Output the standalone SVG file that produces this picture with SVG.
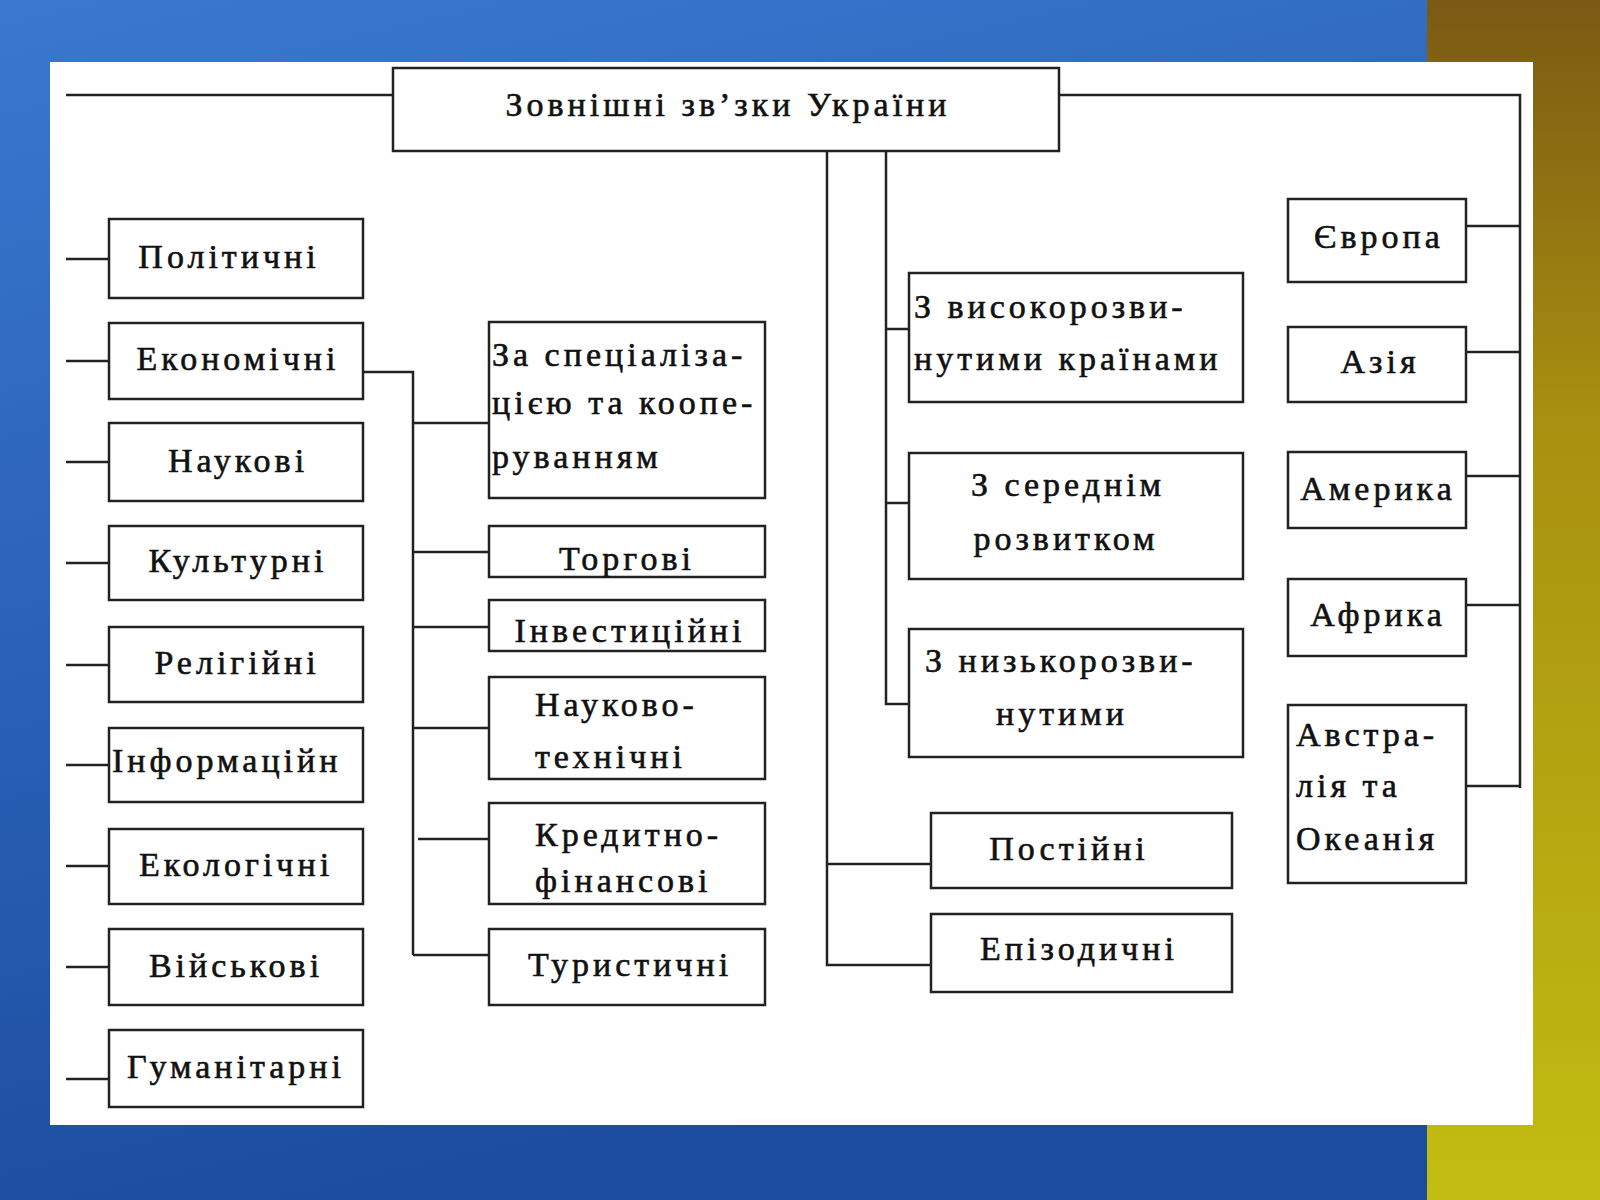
<svg xmlns="http://www.w3.org/2000/svg" width="1600" height="1200" viewBox="0 0 1600 1200">
<defs>
<linearGradient id="bg" x1="0" y1="0" x2="0.3" y2="1"><stop offset="0" stop-color="#3a78d0"/><stop offset="1" stop-color="#1b4c9e"/></linearGradient>
<linearGradient id="yl" x1="0" y1="0" x2="0" y2="1"><stop offset="0" stop-color="#7a5a14"/><stop offset="0.35" stop-color="#a89010"/><stop offset="1" stop-color="#c2bd12"/></linearGradient>
<style>
.b{fill:#fff;stroke:#222;stroke-width:2.5}
.t,.l{font-family:"Liberation Serif",serif;font-size:34px;fill:#111;letter-spacing:4px;stroke:#111;stroke-width:0.6}
.t{text-anchor:middle}
#connectors path{fill:none;stroke:#222;stroke-width:2.5}
</style>
</defs>
<rect width="1600" height="1200" fill="url(#bg)"/>
<rect x="1427" y="0" width="173" height="1200" fill="url(#yl)"/>
<rect x="50" y="62" width="1483" height="1063" fill="#fff"/>
<g id="connectors">
<path d="M66 95H393M1059 95H1520V788"/>
<path d="M66 259H109M66 361H109M66 462H109M66 563H109M66 665H109M66 765H109M66 866H109M66 967H109M66 1079H109"/>
<path d="M363 372H413V955M413 423H489M413 552H489M413 627H489M413 728H489M418 839H494M413 955H489"/>
<path d="M886 151V704H909M886 329H909M886 503H909"/>
<path d="M827 151V965H931M827 864H931"/>
<path d="M1466 226H1520M1466 352H1520M1466 476H1520M1466 605H1520M1466 786H1520"/>
</g>
<g id="n0"><rect class="b" x="393" y="68" width="666" height="83"/><text class="t" x="728" y="116">Зовнішні зв’зки України</text></g>
<g id="n1"><rect class="b" x="109" y="219" width="254" height="79"/><text class="t" x="229" y="268">Політичні</text></g>
<g id="n2"><rect class="b" x="109" y="323" width="254" height="76"/><text class="t" x="238" y="370">Економічні</text></g>
<g id="n3"><rect class="b" x="109" y="423" width="254" height="78"/><text class="t" x="238" y="472">Наукові</text></g>
<g id="n4"><rect class="b" x="109" y="526" width="254" height="74"/><text class="t" x="238" y="572">Культурні</text></g>
<g id="n5"><rect class="b" x="109" y="627" width="254" height="75"/><text class="t" x="237" y="674">Релігійні</text></g>
<g id="n6"><rect class="b" x="109" y="728" width="254" height="74"/><text class="l" x="112" y="772">Інформаційн</text></g>
<g id="n7"><rect class="b" x="109" y="829" width="254" height="75"/><text class="t" x="236" y="876">Екологічні</text></g>
<g id="n8"><rect class="b" x="109" y="929" width="254" height="76"/><text class="t" x="236" y="977">Військові</text></g>
<g id="n9"><rect class="b" x="109" y="1030" width="254" height="77"/><text class="t" x="236" y="1078">Гуманітарні</text></g>
<g id="m1"><rect class="b" x="489" y="322" width="276" height="176"/><text class="l" x="492" y="366">За спеціаліза-</text><text class="l" x="492" y="414">цією та коопе-</text><text class="l" x="492" y="468">руванням</text></g>
<g id="m2"><rect class="b" x="489" y="526" width="276" height="51"/><text class="t" x="627" y="570">Торгові</text></g>
<g id="m3"><rect class="b" x="489" y="600" width="276" height="51"/><text class="t" x="630" y="642">Інвестиційні</text></g>
<g id="m4"><rect class="b" x="489" y="677" width="276" height="102"/><text class="l" x="535" y="716">Науково-</text><text class="l" x="535" y="768">технічні</text></g>
<g id="m5"><rect class="b" x="489" y="803" width="276" height="101"/><text class="l" x="535" y="846">Кредитно-</text><text class="l" x="535" y="892">фінансові</text></g>
<g id="m6"><rect class="b" x="489" y="929" width="276" height="76"/><text class="t" x="630" y="976">Туристичні</text></g>
<g id="d1"><rect class="b" x="909" y="273" width="334" height="129"/><text class="l" x="914" y="318">З високорозви-</text><text class="l" x="914" y="370">нутими країнами</text></g>
<g id="d2"><rect class="b" x="909" y="453" width="334" height="126"/><text class="t" x="1068" y="496">З середнім</text><text class="t" x="1066" y="550">розвитком</text></g>
<g id="d3"><rect class="b" x="909" y="629" width="334" height="128"/><text class="l" x="925" y="672">З низькорозви-</text><text class="t" x="1062" y="725">нутими</text></g>
<g id="p1"><rect class="b" x="931" y="813" width="301" height="75"/><text class="t" x="1069" y="860">Постійні</text></g>
<g id="p2"><rect class="b" x="931" y="914" width="301" height="78"/><text class="t" x="1079" y="960">Епізодичні</text></g>
<g id="r1"><rect class="b" x="1288" y="199" width="178" height="83"/><text class="t" x="1379" y="248">Європа</text></g>
<g id="r2"><rect class="b" x="1288" y="327" width="178" height="75"/><text class="t" x="1380" y="373">Азія</text></g>
<g id="r3"><rect class="b" x="1288" y="452" width="178" height="76"/><text class="t" x="1378" y="500">Америка</text></g>
<g id="r4"><rect class="b" x="1288" y="579" width="178" height="77"/><text class="t" x="1378" y="626">Африка</text></g>
<g id="r5"><rect class="b" x="1288" y="705" width="178" height="178"/><text class="l" x="1296" y="746">Австра-</text><text class="l" x="1296" y="797">лія та</text><text class="l" x="1296" y="850">Океанія</text></g>
</svg>
